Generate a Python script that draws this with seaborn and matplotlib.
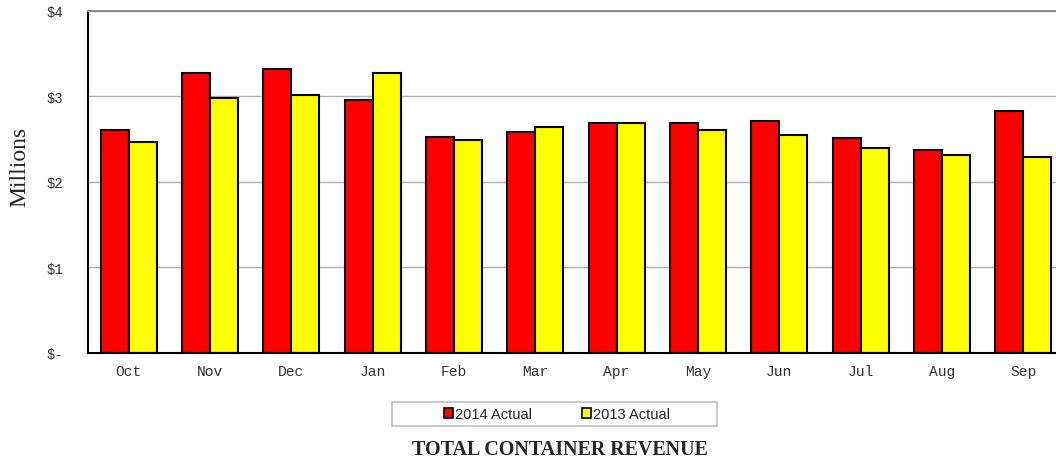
import seaborn as sns
import matplotlib.pyplot as plt
import pandas as pd
import matplotlib.patches as mpatches

########################################################
# Data
########################################################
months = ['Oct', 'Nov', 'Dec', 'Jan', 'Feb', 'Mar', 'Apr', 'May', 'Jun', 'Jul', 'Aug', 'Sep']
actual_2014 = [2.60, 3.27, 3.32, 2.95, 2.52, 2.58, 2.69, 2.69, 2.71, 2.51, 2.37, 2.83]
actual_2013 = [2.46, 2.98, 3.01, 3.27, 2.49, 2.64, 2.69, 2.60, 2.55, 2.39, 2.31, 2.29]
series_names = ['2014 Actual', '2013 Actual']
colors = ['#ff0000', '#ffff00']
y_tick_labels = ['$-', '$1', '$2', '$3', '$4']

df = pd.DataFrame({
    'month': months * 2,
    'revenue': actual_2014 + actual_2013,
    'series': [series_names[0]] * len(months) + [series_names[1]] * len(months),
})

sns.set_style("white")
plt.rcParams['font.family'] = ['Liberation Mono', 'DejaVu Sans']

fig = plt.figure(figsize=(10.56, 4.6), dpi=100)
ax = fig.add_axes([0.0833, 0.2315, 0.9242, 0.743])

sns.barplot(data=df, x='month', y='revenue', hue='series', order=months,
            hue_order=series_names, palette=colors, width=0.69, gap=0,
            edgecolor='black', linewidth=1.5, saturation=1, legend=False, ax=ax)

########################################################
# Axes styling
########################################################
ax.set_xlim(-0.5, len(months) - 0.5)
ax.set_ylim(0, 4)
ax.set_xlabel('')
ax.set_ylabel('')

ax.set_xticks(range(len(months)))
ax.set_xticklabels(months, fontsize=10.5, color='#333333')
ax.set_xticks([i - 0.5 for i in range(len(months) + 1)], minor=True)
ax.tick_params(axis='x', which='major', length=0, pad=8)
ax.tick_params(axis='x', which='minor', direction='out', length=4, color='#999999', width=1)

ax.set_yticks([0, 1, 2, 3, 4])
ax.set_yticklabels(y_tick_labels, fontsize=10, color='#333333')
ax.set_yticks([i * 0.25 for i in range(17) if i % 4], minor=True)
ax.tick_params(axis='y', which='major', direction='out', length=5, color='#999999', width=1, pad=13)
ax.tick_params(axis='y', which='minor', direction='in', length=3, color='#999999', width=1)

ax.yaxis.grid(True, color='#b0b0b0', linewidth=1)
ax.set_axisbelow(True)

ax.spines['left'].set_color('black')
ax.spines['left'].set_linewidth(1.5)
ax.spines['bottom'].set_color('black')
ax.spines['bottom'].set_linewidth(1.5)
ax.spines['top'].set_visible(True)
ax.spines['top'].set_color('#8c8c8c')
ax.spines['top'].set_linewidth(1.5)
ax.spines['right'].set_visible(False)

fig.text(0.019, 1 - 167 / 460, 'Millions', rotation=90, ha='center', va='center',
         fontsize=17, family='Liberation Serif')

########################################################
# Legend and title
########################################################
handles = [mpatches.Patch(facecolor=c, edgecolor='black', linewidth=1.2, label=n)
           for c, n in zip(colors, series_names)]
fig.legend(handles=handles, loc='center', bbox_to_anchor=(557 / 1056, 1 - 415 / 460),
           ncol=2, frameon=False, handlelength=0.65, handleheight=0.65,
           handletextpad=0.15, columnspacing=3.4, prop={'family': 'Liberation Sans', 'size': 10.5})
fig.patches.append(mpatches.Rectangle((392 / 1056, 1 - 427 / 460), 325 / 1056, 24 / 460,
                                      transform=fig.transFigure, fill=False,
                                      edgecolor='#c0c0c0', linewidth=1.2))

fig.text(560 / 1056, 1 - 450 / 460, 'TOTAL CONTAINER REVENUE', ha='center', va='center',
         fontsize=14.4, fontweight='bold', family='Liberation Serif')

plt.savefig('out.png', dpi=100)
